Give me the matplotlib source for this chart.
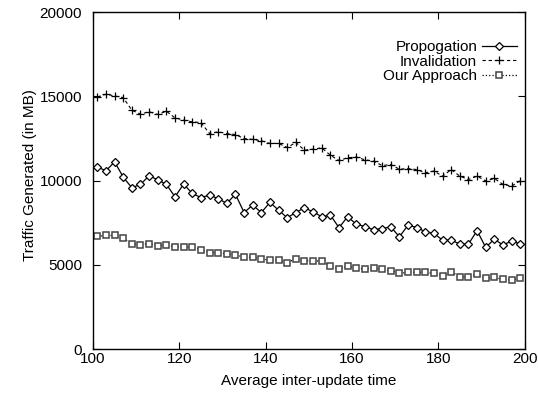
import numpy as np
import matplotlib
matplotlib.use("Agg")
from matplotlib import pyplot as plt

plt.rcParams['font.family'] = ['Liberation Sans', 'DejaVu Sans']

# average inter-update time, odd values 101..199
x = [101, 103, 105, 107, 109, 111, 113, 115, 117, 119,
     121, 123, 125, 127, 129, 131, 133, 135, 137, 139,
     141, 143, 145, 147, 149, 151, 153, 155, 157, 159,
     161, 163, 165, 167, 169, 171, 173, 175, 177, 179,
     181, 183, 185, 187, 189, 191, 193, 195, 197, 199]

propogation = [10810, 10575, 11110, 10200, 9570, 9770, 10280, 10040, 9770, 9030,
               9790, 9230, 8990, 9130, 8930, 8640, 9190, 8100, 8540, 8100,
               8700, 8240, 7790, 8100, 8380, 8140, 7850, 7950, 7200, 7850,
               7410, 7270, 7080, 7150, 7250, 6660, 7350, 7210, 6960, 6860,
               6460, 6460, 6230, 6230, 7020, 6030, 6520, 6170, 6410, 6230]

invalidation = [14960, 15120, 15020, 14920, 14170, 13940, 14080, 13920, 14110, 13720,
                13580, 13480, 13440, 12790, 12890, 12790, 12730, 12490, 12440, 12360,
                12200, 12200, 11960, 12260, 11800, 11860, 11940, 11500, 11190, 11350,
                11390, 11230, 11150, 10890, 10950, 10670, 10710, 10650, 10460, 10560,
                10260, 10650, 10260, 10060, 10260, 9980, 10120, 9770, 9670, 9980]

our_approach = [6690, 6740, 6740, 6580, 6250, 6190, 6250, 6140, 6190, 6070,
                6070, 6040, 5900, 5720, 5720, 5630, 5600, 5440, 5440, 5340,
                5280, 5280, 5120, 5350, 5250, 5240, 5210, 4940, 4740, 4900,
                4820, 4740, 4820, 4720, 4650, 4490, 4550, 4550, 4550, 4490,
                4350, 4590, 4290, 4290, 4430, 4190, 4250, 4130, 4090, 4190]

fig = plt.figure(figsize=(5.38, 3.94), dpi=100)
ax = fig.add_axes([0.1729, 0.1142, 0.8021, 0.8553])

ax.plot(x, propogation, '-', color='black', lw=0.9, marker='D', ms=4.0,
        mfc='white', mec='black', mew=0.9, label='Propogation')
ax.plot(x, invalidation, '--', color='black', lw=0.8, dashes=(3, 2.5), marker='+',
        ms=6, mew=0.9, label='Invalidation')
ax.plot(x, our_approach, ':', color='black', lw=0.9, marker='s', ms=4.5,
        mfc='white', mec='#444444', mew=1.1, label='Our Approach')

ax.set_xlim(100, 200)
ax.set_ylim(0, 20000)
ax.set_xticks([100, 120, 140, 160, 180, 200])
ax.set_yticks([0, 5000, 10000, 15000, 20000])
ax.tick_params(direction='in', length=5, width=0.8, top=True, right=True,
               labelsize=11)
ax.tick_params(axis='x', pad=2)
ax.tick_params(axis='y', pad=8)
for s in ax.spines.values():
    s.set_linewidth(1.0)

ax.set_xlabel('Average inter-update time', fontsize=11, labelpad=6)
ax.set_ylabel('Traffic Generated (in MB)', fontsize=11)
ax.yaxis.set_label_coords(-0.13, 0.515)

leg = ax.legend(loc='upper right', bbox_to_anchor=(1.0, 0.94), frameon=False,
                markerfirst=False, fontsize=11, handlelength=2.3,
                handletextpad=0.3, labelspacing=0.05, borderpad=0)

fig.savefig('out.png', dpi=100)
